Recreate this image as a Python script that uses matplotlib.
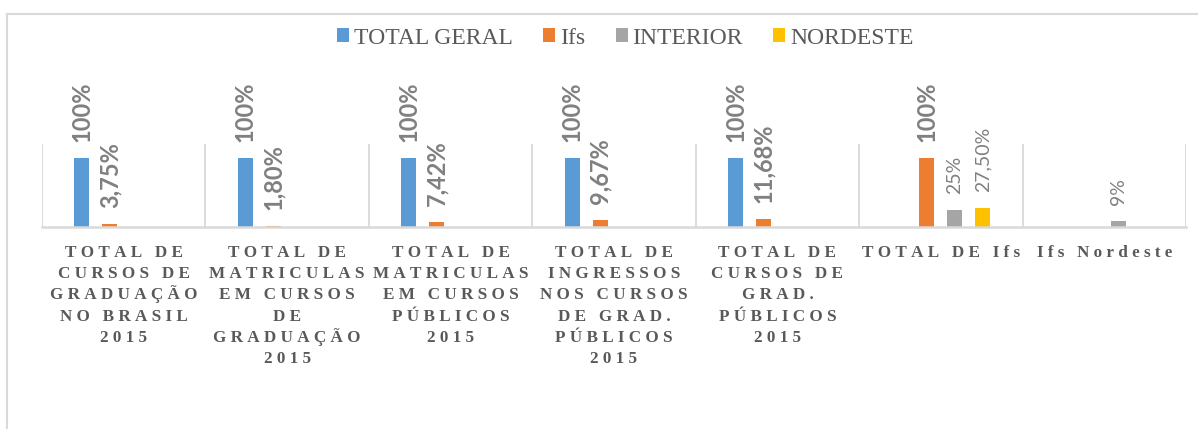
import numpy as np
import matplotlib
matplotlib.use('Agg')
import matplotlib.pyplot as plt
from matplotlib.lines import Line2D

# === 資料 ===
categories = [
    "TOTAL DE\nCURSOS DE\nGRADUAÇÃO\nNO BRASIL\n2015",
    "TOTAL DE\nMATRICULAS\nEM CURSOS\nDE\nGRADUAÇÃO\n2015",
    "TOTAL DE\nMATRICULAS\nEM CURSOS\nPÚBLICOS\n2015",
    "TOTAL DE\nINGRESSOS\nNOS CURSOS\nDE GRAD.\nPÚBLICOS\n2015",
    "TOTAL DE\nCURSOS DE\nGRAD.\nPÚBLICOS\n2015",
    "TOTAL DE Ifs",
    "Ifs Nordeste",
]
series_names = ["TOTAL GERAL", "Ifs", "INTERIOR", "NORDESTE"]
nan = np.nan
total_geral = [1.0, 1.0, 1.0, 1.0, 1.0, nan, nan]
ifs = [0.0375, 0.018, 0.0742, 0.0967, 0.1168, 1.0, nan]
interior = [nan, nan, nan, nan, nan, 0.25, 0.09]
nordeste = [nan, nan, nan, nan, nan, 0.275, nan]

total_geral_labels = ["100%", "100%", "100%", "100%", "100%", "", ""]
ifs_labels = ["3,75%", "1,80%", "7,42%", "9,67%", "11,68%", "100%", ""]
interior_labels = ["", "", "", "", "", "25%", "9%"]
nordeste_labels = ["", "", "", "", "", "27,50%", ""]

colors = ["#5B9BD5", "#ED7D31", "#A5A5A5", "#FFC000"]
label_bold = [True, True, False, False]

W, H = 1198, 429
fig = plt.figure(figsize=(W / 100, H / 100), dpi=100)
fig.patch.set_facecolor("white")

# 外框 (只看得到左邊和上邊)
fig.add_artist(Line2D([7 / W, 7 / W], [0, 1 - 14 / H], transform=fig.transFigure,
                      color="#D9D9D9", lw=1.5))
fig.add_artist(Line2D([7 / W, 1], [1 - 14 / H, 1 - 14 / H], transform=fig.transFigure,
                      color="#D9D9D9", lw=1.5))

ax = fig.add_axes([42 / W, (H - 227) / H, (1186 - 42) / W, 83 / H])
ax.set_xlim(-0.5, len(categories) - 0.5)
ax.set_ylim(0, 1.2)

x = np.arange(len(categories))
step = 0.171
width = 0.092
all_vals = [total_geral, ifs, interior, nordeste]
all_labels = [total_geral_labels, ifs_labels, interior_labels, nordeste_labels]

handles = []
for i, (vals, labs) in enumerate(zip(all_vals, all_labels)):
    pos = x + (i - 1.5) * step
    bars = ax.bar(pos, vals, width=width, color=colors[i], linewidth=0,
                  label=series_names[i])
    handles.append(bars)
    for p, v, lab in zip(pos, vals, labs):
        if np.isnan(v) or not lab:
            continue
        ax.annotate(lab, xy=(p, v), xytext=(0, 16), textcoords="offset pixels",
                    rotation=90, ha="center", va="bottom",
                    fontsize=17 if label_bold[i] else 14,
                    fontweight="bold" if label_bold[i] else "normal",
                    family="Lato", color="#808080", annotation_clip=False)

# 格線 / 座標軸
ax.set_xticks(np.arange(-0.5, len(categories), 1), minor=True)
ax.grid(which="minor", axis="x", color="#D9D9D9", lw=1.3)
ax.set_xticks([])
ax.set_yticks([])
for s in ["top", "left", "right"]:
    ax.spines[s].set_visible(False)
ax.spines["bottom"].set_color("#D9D9D9")
ax.spines["bottom"].set_linewidth(1.8)
ax.tick_params(which="both", length=0)


def spaced(line):
    return "\u2005".join(line)


# 類別標籤，每一行分開畫
line_h = 21.2
for i, cat in enumerate(categories):
    for j, line in enumerate(cat.split("\n")):
        ax.annotate(spaced(line), xy=(i, 0), xycoords="data",
                    xytext=(0, -30 - j * line_h), textcoords="offset pixels",
                    ha="center", va="baseline", fontsize=12.3, fontweight="bold",
                    family=["Liberation Serif", "DejaVu Serif"], color="#595959",
                    annotation_clip=False)

fig.legend(handles=handles, labels=series_names, loc="center",
           bbox_to_anchor=(0.522, 1 - 38 / H), ncol=4, frameon=False,
           prop={"family": "Liberation Serif", "size": 17},
           labelcolor="#595959", handlelength=0.5, handleheight=0.5,
           handletextpad=0.2, columnspacing=1.3)

fig.savefig("out.png", dpi=100)
